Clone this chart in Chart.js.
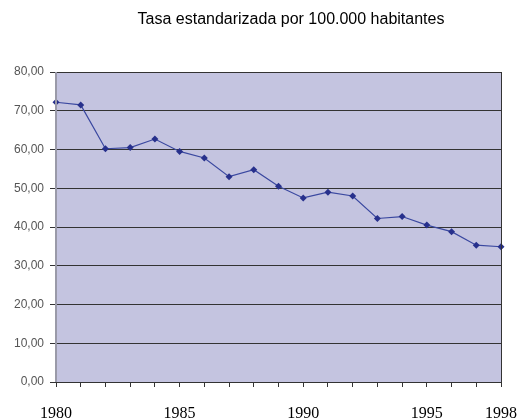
<!DOCTYPE html>
<html lang="es">

<head>
    <meta charset="UTF-8" />
    <title>Tasa estandarizada por 100.000 habitantes</title>
    <script src="https://cdn.jsdelivr.net/npm/chart.js"></script>
    <style>
        body {
            margin: 0;
            background: #ffffff;
        }

        .wrap {
            width: 517px;
            height: 420px;
        }
    </style>
</head>

<body>
    <div class="wrap">
        <canvas id="tasaChart" width="517" height="420"></canvas>
    </div>

    <script>
        const years = ["1980", "1981", "1982", "1983", "1984", "1985", "1986", "1987", "1988", "1989",
            "1990", "1991", "1992", "1993", "1994", "1995", "1996", "1997", "1998"];
        const tasa = [72.2, 71.5, 60.2, 60.5, 62.7, 59.5, 57.8, 53.0, 54.8, 50.5,
            47.5, 49.0, 48.0, 42.2, 42.7, 40.5, 38.8, 35.3, 34.9];
        const shownYears = ["1980", "1985", "1990", "1995", "1998"];
        const chartTitle = "Tasa estandarizada por 100.000 habitantes";

        // plot background + borders + title
        const plotBg = {
            id: "plotBg",
            beforeDraw(chart) {
                const { ctx, chartArea: a } = chart;
                ctx.save();
                ctx.fillStyle = "#c4c4e0";
                ctx.fillRect(a.left, a.top, a.right - a.left, a.bottom - a.top);
                ctx.restore();
            },
            afterDraw(chart) {
                const { ctx, chartArea: a } = chart;
                ctx.save();
                ctx.strokeStyle = "#9a9aa8";
                ctx.lineWidth = 2;
                ctx.beginPath();
                ctx.moveTo(a.left, a.top);
                ctx.lineTo(a.left, a.bottom);
                ctx.stroke();
                ctx.strokeStyle = "#333";
                ctx.lineWidth = 1;
                ctx.beginPath();
                ctx.moveTo(a.right + 0.5, a.top);
                ctx.lineTo(a.right + 0.5, a.bottom);
                ctx.stroke();
                ctx.fillStyle = "#000";
                ctx.font = "16px 'Liberation Sans', Arial, sans-serif";
                ctx.textAlign = "center";
                ctx.textBaseline = "middle";
                ctx.fillText(chartTitle, 291, 20);
                ctx.restore();
            }
        };

        new Chart(document.getElementById("tasaChart"), {
            type: "line",
            data: {
                labels: years,
                datasets: [{
                    label: "Tasa",
                    data: tasa,
                    borderColor: "#3a48a0",
                    borderWidth: 1.2,
                    backgroundColor: "#27308c",
                    pointStyle: "rectRot",
                    pointRadius: 3.5,
                    pointBorderWidth: 0,
                    tension: 0,
                    fill: false
                }]
            },
            options: {
                responsive: false,
                animation: false,
                layout: { padding: { top: 72, right: 16, left: 0, bottom: 0 } },
                plugins: {
                    legend: { display: false },
                    tooltip: { enabled: false }
                },
                scales: {
                    x: {
                        offset: false,
                        grid: { drawOnChartArea: false, color: "#333", tickLength: 5 },
                        border: { color: "#333" },
                        ticks: {
                            autoSkip: false,
                            maxRotation: 0,
                            padding: 17,
                            color: "#000",
                            font: { family: "'Liberation Serif', 'Times New Roman', serif", size: 16 },
                            callback: function (val, i) {
                                const y = years[i];
                                return shownYears.includes(y) ? y : "";
                            }
                        },
                        afterFit(scale) {
                            scale.height = 38;
                            scale.paddingLeft = 0;
                            scale.paddingRight = 0;
                        }
                    },
                    y: {
                        min: 0,
                        max: 80,
                        grid: { color: "#333", tickLength: 6 },
                        border: { display: false },
                        ticks: {
                            stepSize: 10,
                            padding: 6,
                            color: "#555",
                            font: { family: "'Liberation Sans', Arial, sans-serif", size: 12 },
                            callback: v => v.toFixed(2).replace(".", ",")
                        },
                        afterFit(scale) { scale.width = 56; }
                    }
                }
            },
            plugins: [plotBg]
        });
    </script>
</body>

</html>
